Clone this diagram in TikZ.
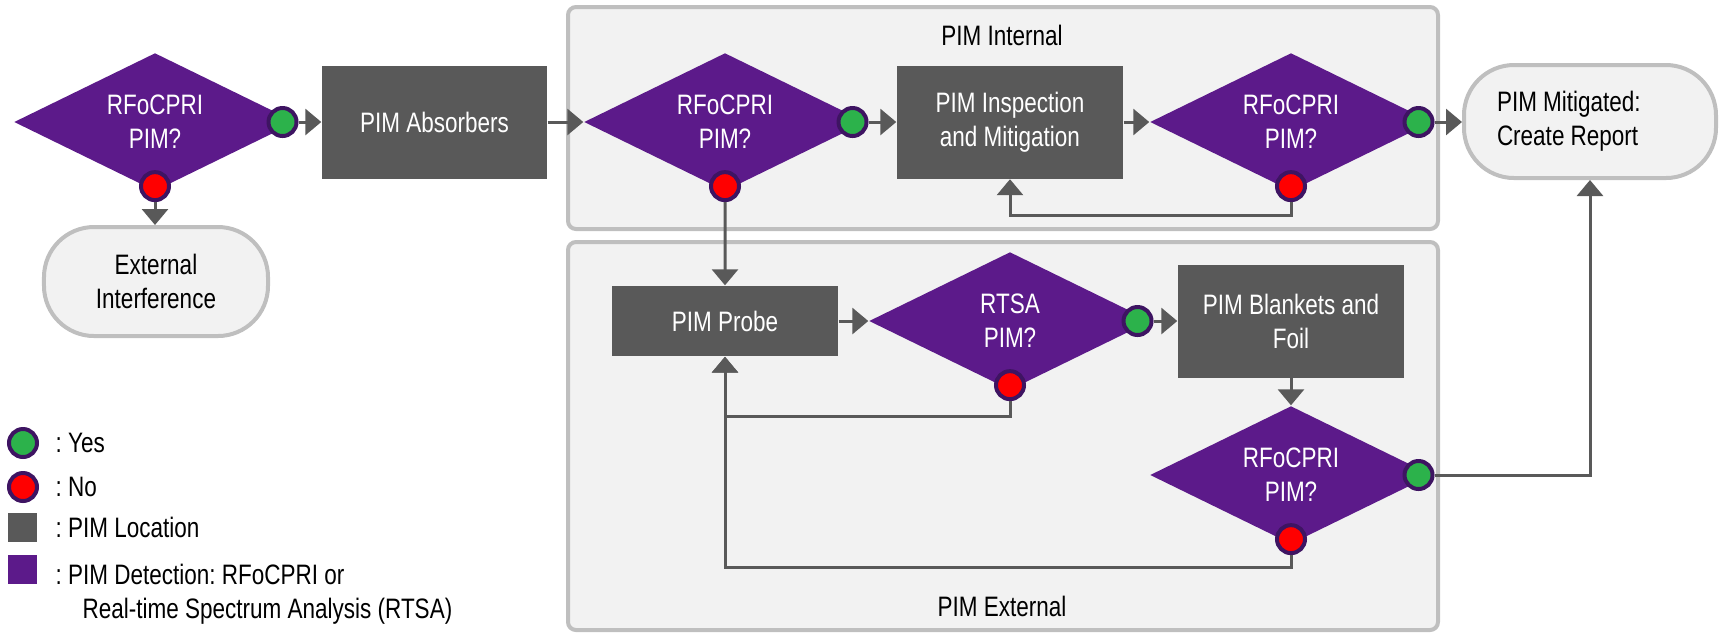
\documentclass[tikz,border=0pt]{standalone}
\usepackage{fontspec}
\setmainfont[FakeStretch=0.8]{Liberation Sans}
\usetikzlibrary{arrows.meta,positioning,calc,shapes.geometric}
\definecolor{pimpurple}{RGB}{92,26,138}
\definecolor{pimring}{RGB}{62,20,98}
\definecolor{pimgreen}{RGB}{44,178,75}
\definecolor{pimred}{RGB}{255,0,0}
\definecolor{pimgray}{RGB}{89,89,89}
\definecolor{panelline}{RGB}{191,191,191}
\definecolor{panelfill}{RGB}{242,242,242}
\frenchspacing

\begin{document}
\begin{tikzpicture}[x=1cm,y=1cm,
  font=\fontsize{8}{9.7}\selectfont,
  panel/.style={draw=panelline,line width=.4mm,rounded corners=.8mm,fill=panelfill},
  title/.style={inner sep=0},
  decision/.style={diamond,aspect=2,fill=pimpurple,text=white,align=center,inner sep=0,minimum width=2.82cm,minimum height=1.38cm},
  location/.style={fill=pimgray,text=white,align=center,inner sep=0,minimum width=2.26cm,minimum height=1.13cm},
  terminal/.style={draw=panelline,fill=panelfill,line width=.4mm,rounded corners=5mm,inner sep=0,align=center},
  yesdot/.style={circle,draw=pimring,line width=.4mm,fill=pimgreen,minimum size=2.8mm,inner sep=0},
  nodot/.style={yesdot,fill=pimred},
  keybox/.style={minimum size=2.9mm,inner sep=0},
  keytext/.style={anchor=west,inner sep=0,align=flush left},
  flow/.style={-{Triangle[length=1.6mm,width=2.6mm]},draw=pimgray,line width=.3mm}]

\path[use as bounding box] (0,0) rectangle (17.19,-6.34);
\draw[panel] (5.68,-.07) rectangle (14.38,-2.29);
\draw[panel] (5.68,-2.42) rectangle (14.38,-6.30);
\node[title] (inttitle) at (10.02,-.35) {PIM Internal};
\node[title] (exttitle) at (10.02,-6.06) {PIM External};

% top row
\node[decision] (d1) at (1.55,-1.22) {RFoCPRI\\PIM?};
\node[location,minimum width=2.25cm] (absorb) at (4.345,-1.22) {PIM Absorbers};
\node[terminal,minimum width=2.24cm,minimum height=1.09cm] (extint) at (1.56,-2.815)
  {External\\Interference};
\node[decision] (d2) at (7.25,-1.22) {RFoCPRI\\PIM?};
\node[location] (insp) at (10.10,-1.22) {PIM Inspection\\and Mitigation};
\node[decision] (d3) at (12.91,-1.22) {RFoCPRI\\PIM?};
\node[terminal,align=flush left,text width=1.86cm,inner xsep=3.3mm,minimum height=1.13cm] (mitig)
  at (15.90,-1.215) {PIM Mitigated:\\Create Report};

% external loop
\node[location,minimum height=.70cm] (probe) at (7.25,-3.21) {PIM Probe};
\node[decision] (dr) at (10.10,-3.21) {RTSA\\PIM?};
\node[location] (blank) at (12.91,-3.21) {PIM Blankets and\\Foil};
\node[decision] (d4) at (12.91,-4.75) {RFoCPRI\\PIM?};

\foreach \d in {1,2,3,r,4} {
  \node[yesdot] (y\d) at ($(d\d.center)!.9!(d\d.east)$) {};
  \node[nodot] (n\d) at ($(d\d.center)!.92!(d\d.south)$) {};
}

\draw[flow] (y1) -- (y1 -| absorb.west);
\draw[flow] (n1) -- (n1 |- extint.north);
\draw[flow] (absorb) -- (d2);
\draw[flow] (y2) -- (y2 -| insp.west);
\draw[flow] (insp) -- (d3);
\draw[flow] (y3) -- (y3 -| mitig.west);
\draw[flow] (n3.south) -- ++(0,-.13) -| (insp.south);
\draw[flow] (n2) -- (probe);
\draw[flow] (probe) -- (dr);
\draw[flow] (yr) -- (yr -| blank.west);
\draw[flow] (nr.south) -- ++(0,-.15) -| (probe.south);
\draw[flow] (blank) -- (d4);
\draw[flow] (n4.south) -- ++(0,-.12) -| (probe.south);
\draw[flow] (y4.east) -| (mitig.south);

% key
\node[yesdot] (kyes) at (.23,-4.43) {};
\node[nodot] (kno) at (.23,-4.87) {};
\node[keybox,fill=pimgray] (kloc) at (.225,-5.275) {};
\node[keybox,fill=pimpurple] (kdet) at (.225,-5.69) {};
\node[keytext] (tyes) at (.55,-4.43) {: Yes};
\node[keytext] (tno) at (.55,-4.87) {: No};
\node[keytext] (tloc) at (.55,-5.275) {: PIM Location};
\node[keytext] (tdet) at (.55,-5.94)
  {: PIM Detection: RFoCPRI or\\\hspace*{2.7mm}Real-time Spectrum Analysis (RTSA)};

\end{tikzpicture}
\end{document}
